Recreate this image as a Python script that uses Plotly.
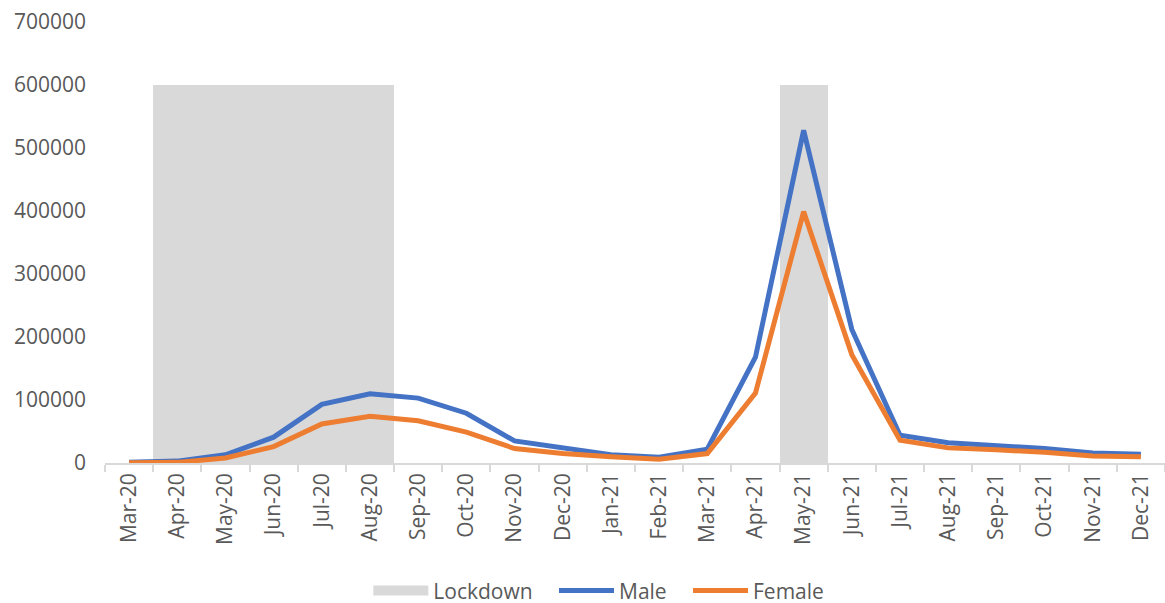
import plotly.graph_objects as go

months = ["Mar-20", "Apr-20", "May-20", "Jun-20", "Jul-20", "Aug-20", "Sep-20", "Oct-20",
          "Nov-20", "Dec-20", "Jan-21", "Feb-21", "Mar-21", "Apr-21", "May-21", "Jun-21",
          "Jul-21", "Aug-21", "Sep-21", "Oct-21", "Nov-21", "Dec-21"]
male = [1000, 3000, 13000, 41000, 93000, 110000, 103000, 79000, 35000, 23000, 13000, 9000,
        22000, 168000, 528000, 212000, 44000, 32000, 28000, 23000, 16000, 14000]
female = [500, 1000, 8000, 26000, 62000, 74000, 67000, 49000, 23000, 15000, 10000, 6000,
          15000, 111000, 399000, 172000, 36000, 24000, 21000, 17000, 11000, 10000]
lockdown = [None, 600000, 600000, 600000, 600000, 600000, None, None, None, None, None, None,
            None, None, 600000, None, None, None, None, None, None, None]

font_color = "#595959"
gray = "#D9D9D9"
pad = "\u00a0" * 3
fig = go.Figure()
fig.add_trace(go.Bar(x=months, y=lockdown, name="Lockdown", marker=dict(color=gray, line=dict(width=0)),
                     width=1.0, showlegend=False))
# legend entry for the lockdown box
fig.add_trace(go.Scatter(x=[None], y=[None], name="Lockdown" + pad, mode="lines",
                         line=dict(color=gray, width=18)))
fig.add_trace(go.Scatter(x=months, y=male, name="Male" + pad, mode="lines",
                         line=dict(color="#4472C4", width=5)))
fig.add_trace(go.Scatter(x=months, y=female, name="Female", mode="lines",
                         line=dict(color="#ED7D31", width=5)))

fig.update_layout(
    width=1165, height=603,
    margin=dict(l=105, r=0, t=22, b=140),
    paper_bgcolor="white", plot_bgcolor="white",
    font=dict(family="Open Sans, sans-serif", size=21, color=font_color),
    bargap=0,
    showlegend=True,
    legend=dict(orientation="h", x=0.514, xref="container", xanchor="center",
                y=0.02, yref="container", yanchor="middle",
                font=dict(size=21, color=font_color), traceorder="normal",
                itemsizing="trace", itemwidth=55),
)
fig.update_xaxes(type="category", tickangle=-90, showgrid=False, showline=True,
                 linecolor=gray, linewidth=1.5, ticks="outside", tickson="boundaries",
                 ticklen=7, tickcolor=gray, tickwidth=1.5,
                 tickfont=dict(size=21, color=font_color), range=[-0.5, 21.5])
fig.update_yaxes(range=[0, 700000], dtick=100000, showgrid=False, zeroline=False,
                 showline=False, tickformat="d", ticks="", ticklabelstandoff=18,
                 tickfont=dict(size=21, color=font_color))

fig.write_html("out.html")
